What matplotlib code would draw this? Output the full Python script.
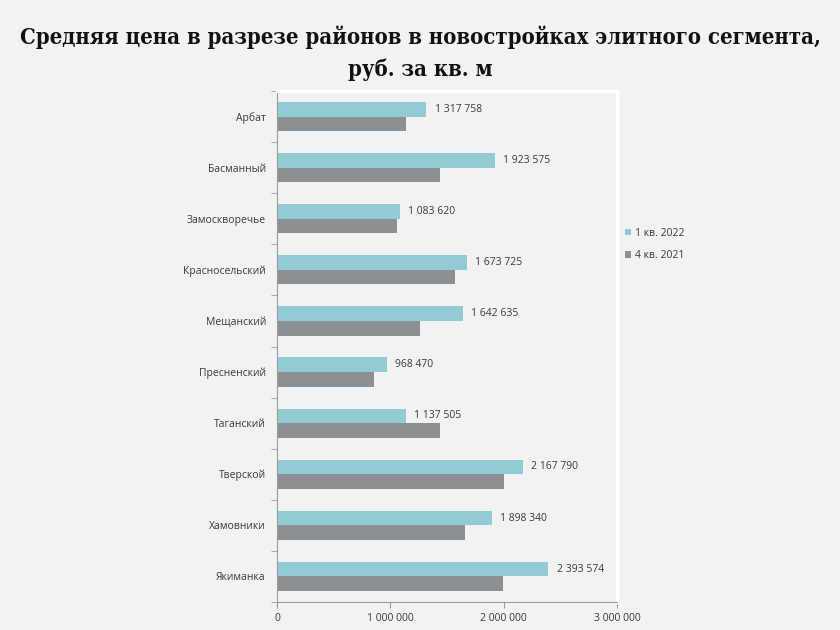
import matplotlib
matplotlib.use("Agg")
import matplotlib.pyplot as plt
from matplotlib import font_manager
import numpy as np

districts = ["Арбат", "Басманный", "Замоскворечье", "Красносельский", "Мещанский",
             "Пресненский", "Таганский", "Тверской", "Хамовники", "Якиманка"]
q1_2022 = [1317758, 1923575, 1083620, 1673725, 1642635, 968470, 1137505, 2167790, 1898340, 2393574]
q4_2021 = [1138000, 1441000, 1062000, 1568000, 1259000, 859000, 1441000, 2006000, 1662000, 1991000]
series_names = ["1 кв. 2022", "4 кв. 2021"]
x_ticks = [0, 1000000, 2000000, 3000000]
title = "Средняя цена в разрезе районов в новостройках элитного сегмента,\nруб. за кв. м"

BG = "#f2f2f2"
CYAN = "#92cbd4"
GRAY = "#8b9095"
TXT = "#3a3a3a"
LBL_FONT = ["Open Sans", "DejaVu Sans"]

def fmt(v):
    return f"{v:,}".replace(",", " ")

fig = plt.figure(figsize=(8.4, 6.3), dpi=100, facecolor=BG)
ax = fig.add_axes([277/840, 1-602/630, 340/840, 511/630])
ax.set_facecolor(BG)

n = len(districts)
pos = np.arange(n)
h = 0.285
ax.barh(pos - h/2, q1_2022, height=h, color=CYAN, label=series_names[0])
ax.barh(pos + h/2, q4_2021, height=h, color=GRAY, label=series_names[1])

for p, v in zip(pos, q1_2022):
    ax.annotate(fmt(v), (v, p - h/2), xytext=(6, 0), textcoords="offset points",
                va="center", ha="left", fontsize=7.5, color=TXT, family=LBL_FONT)

ax.set_ylim(n - 0.5, -0.5)
ax.set_xlim(0, 3000000)
ax.set_yticks(pos)
ax.set_yticklabels(districts, fontsize=7.5, color=TXT, family=LBL_FONT)
ax.set_yticks(np.arange(-0.5, n, 1), minor=True)
ax.tick_params(axis="y", which="major", length=0, pad=8)
ax.tick_params(axis="y", which="minor", length=4, color="#9a9a9a", direction="out")
ax.set_xticks(x_ticks)
ax.set_xticklabels([fmt(t) for t in x_ticks], fontsize=7.5, color=TXT, family=LBL_FONT)
ax.tick_params(axis="x", length=4, color="#9a9a9a", direction="out", pad=4)

for s in ["top", "right"]:
    ax.spines[s].set_color("white")
    ax.spines[s].set_linewidth(2.5)
for s in ["left", "bottom"]:
    ax.spines[s].set_color("#9a9a9a")
    ax.spines[s].set_linewidth(0.8)

leg = ax.legend(loc="center left", bbox_to_anchor=(0.995, 0.70), frameon=False,
                prop={"family": LBL_FONT, "size": 7.5}, handlelength=0.6, handleheight=0.6,
                handletextpad=0.4, labelspacing=1.1, labelcolor=TXT)

# title: prefer a condensed bold serif if available
title_fp = font_manager.FontProperties(family=["DejaVu Serif", "Liberation Serif"],
                                       weight="bold", stretch="condensed", size=15.8)
fig.text(0.5, 0.915, title, ha="center", va="center", fontproperties=title_fp,
         color="#111111", linespacing=1.55)

fig.savefig("out.png", dpi=100, facecolor=BG)
